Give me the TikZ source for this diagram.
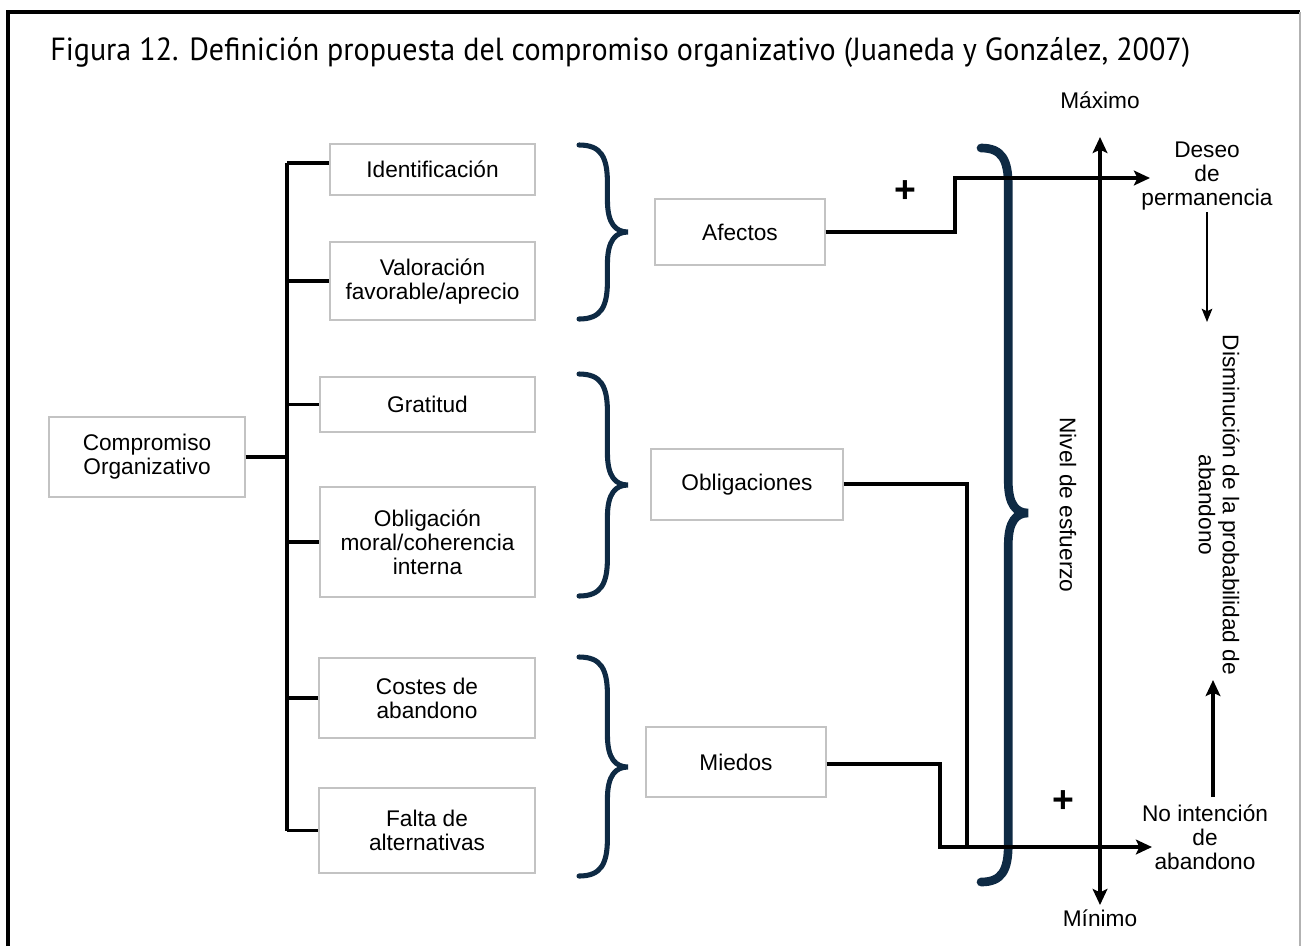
\documentclass[tikz,border=0pt]{standalone}
\usepackage{fontspec}
\setmainfont{Liberation Sans}
\newfontfamily\titlefont{PT Sans}
\usetikzlibrary{arrows.meta}
\definecolor{bracecol}{RGB}{14,42,68}
\definecolor{boxgray}{RGB}{195,195,195}
\newcommand\cbrace[6]{% style, x0, ytop, ymid, ybot, w
  \draw[#1] (#2,#3) .. controls (#2+0.45*#6,#3) and (#2+0.58*#6,#3+12) .. (#2+0.58*#6,#3+38)
   -- (#2+0.58*#6,#4-32) .. controls (#2+0.58*#6,#4-8) and (#2+0.75*#6,#4) .. (#2+#6,#4)
   .. controls (#2+0.75*#6,#4) and (#2+0.58*#6,#4+8) .. (#2+0.58*#6,#4+32)
   -- (#2+0.58*#6,#5-38) .. controls (#2+0.58*#6,#5-12) and (#2+0.45*#6,#5) .. (#2,#5);}
\newcommand\bx[6]{% name, x1, y1, x2, y2, text
  \node[box,minimum width={(#4-#2)*0.75pt},minimum height={(#5-#3)*0.75pt}]
    (#1) at ({(#2+#4)/2},{(#3+#5)/2}) {#6};}
\begin{document}
\begin{tikzpicture}[x=0.75pt,y=-0.75pt,
  box/.style={draw=boxgray,line width=0.8pt,inner sep=0pt,align=center,font=\fontsize{17}{18}\selectfont},
  txt/.style={align=center,inner sep=0pt,font=\fontsize{17}{18}\selectfont},
  conn/.style={line width=2.8pt},
  arr/.style={line width=2.8pt,-{Stealth[length=12pt,width=11pt,inset=2.5pt]}},
  dbl/.style={line width=2.8pt,{Stealth[length=12pt,width=11pt,inset=2.5pt]}-{Stealth[length=12pt,width=11pt,inset=2.5pt]}},
  thinarr/.style={line width=1.3pt,-{Stealth[length=10pt,width=8pt,inset=2pt]}},
  brc/.style={draw=bracecol,line width=3.8pt,line cap=round},
  bigbrc/.style={draw=bracecol,line width=6.5pt,line cap=round},
  plus/.style={inner sep=0pt,font=\fontsize{28}{28}\selectfont\bfseries}]
\useasboundingbox (0,0) rectangle (1301,947);
% frame
\draw[line width=2.6pt] (8,946) -- (8,12) -- (1300,12);
\draw[gray!60,line width=0.8pt] (1300,12) -- (1300,946);
% title
\node[anchor=base west,inner sep=0pt] (title) at (50,60)
  {\resizebox{855pt}{\height}{\titlefont\fontsize{24}{26}\selectfont Figura 12. Definición propuesta del compromiso organizativo (Juaneda y González, 2007)}};
% left boxes
\bx{co}{49}{417}{245}{497}{Compromiso\\Organizativo}
\bx{id}{330}{144}{535}{195}{Identificación}
\bx{va}{330}{242}{535}{320}{Valoración\\favorable/aprecio}
\bx{gr}{320}{377}{535}{432}{Gratitud}
\bx{om}{320}{487}{535}{597}{Obligación\\moral/coherencia\\interna}
\bx{cs}{319}{658}{535}{738}{Costes de\\abandono}
\bx{fa}{319}{788}{535}{873}{Falta de\\alternativas}
% middle boxes
\bx{af}{655}{199}{825}{265}{Afectos}
\bx{ob}{651}{449}{843}{520}{Obligaciones}
\bx{mi}{646}{727}{826}{797}{Miedos}
% tree
\coordinate (sp) at (287,457);
\coordinate (spT) at (287,163);
\draw[conn] (co.east) -- (sp);
\draw[conn] (spT) -- (sp |- fa.west);
\draw[conn] (spT) -- (spT -| id.west);
\draw[conn] (sp |- va.west) -- (va.west);
\draw[conn] (sp |- gr.west) -- (gr.west);
\draw[conn] (sp |- om.west) -- (om.west);
\draw[conn] (sp |- cs.west) -- (cs.west);
\draw[conn] (sp |- fa.west) -- (fa.west);
% small braces
\cbrace{brc}{579}{145}{232}{319}{49}
\cbrace{brc}{579}{374}{485}{596}{49}
\cbrace{brc}{579}{657}{767}{876}{49}
% big brace
\cbrace{bigbrc}{981}{148}{513}{882}{47}
% right labels
\node[txt] (max) at (1100,100) {Máximo};
\node[txt] (min) at (1100,918) {Mínimo};
\node[txt] (de) at (1207,176) {Deseo\\de\\permanencia};
\node[txt] (ni) at (1205,837) {No intención\\de\\abandono};
\node[txt,rotate=-90] (ne) at (1068,505) {Nivel de esfuerzo};
\node[txt,rotate=-90] (dp) at (1219,505) {Disminución de la probabilidad de\\abandono};
\node[plus] (p1) at (905,192) {+};
\node[plus] (p2) at (1063,802) {+};
% axis
\coordinate (axT) at (1100,137);
\coordinate (axB) at (1100,905);
\draw[dbl] (axB) -- (axT);
% connectors to the right
\coordinate (kA) at (955,178);
\coordinate (tA) at (1150,178);
\draw[arr] (af.east) -| (kA) -- (tA);
\coordinate (kB) at (967,847);
\draw[conn] (ob.east |- 0,484) -| (kB);
\coordinate (kC) at (940,847);
\coordinate (tC) at (1152,847);
\draw[arr] (mi.east |- 0,764) -| (kC) -- (tC);
% side arrows
\coordinate (dA) at (1207,212);
\coordinate (dB) at (1207,322);
\draw[thinarr] (dA) -- (dB);
\coordinate (uA) at (1213,797);
\coordinate (uB) at (1213,680);
\draw[arr] (uA) -- (uB);
\end{tikzpicture}
\end{document}
